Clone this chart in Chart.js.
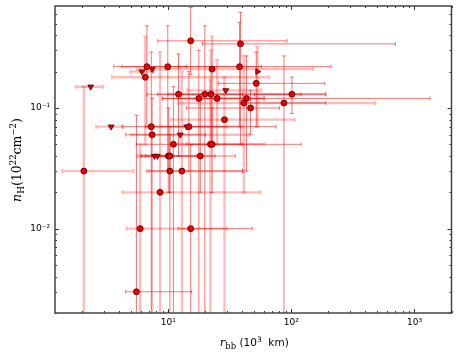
<!DOCTYPE html>
<html>
<head>
<meta charset="utf-8">
<script src="https://cdn.jsdelivr.net/npm/chart.js@4"></script>
<style>
  html, body { margin: 0; padding: 0; background: #fff; }
  #wrap { width: 458px; height: 356px; }
</style>
</head>
<body>
<div id="wrap"><canvas id="myChart"></canvas></div>
<script>
// blackbody radius (10^3 km) and column density (10^22 cm^-2)
const rbb   = [15.2, 38.6, 6.7, 6.1, 7.4, 9.9, 37.9, 22.7, 53, 6.5, 51.8, 2.34, 29.3, 12.1, 19.8, 22.2, 101, 17.7, 24.9, 43.2, 41.1, 87, 46.6, 28.6, 3.43, 7.27, 14.1, 14.7, 7.38, 12.5, 11.0, 22.0, 22.7, 7.69, 8.14, 10.0, 10.3, 18.2, 2.06, 10.3, 12.9, 8.57, 5.91, 15.2, 5.51];
const nH    = [0.36, 0.34, 0.22, 0.20, 0.21, 0.22, 0.22, 0.21, 0.20, 0.18, 0.16, 0.15, 0.14, 0.13, 0.13, 0.13, 0.13, 0.12, 0.12, 0.12, 0.11, 0.11, 0.10, 0.08, 0.07, 0.07, 0.07, 0.07, 0.06, 0.06, 0.05, 0.05, 0.05, 0.04, 0.04, 0.04, 0.04, 0.04, 0.03, 0.03, 0.03, 0.02, 0.01, 0.01, 0.003];
const rbbLo = [8.2, 18.9, 3.6, 4.9, 5.6, 4.2, 12, 9.5, null, 3.5, 25.6, 1.77, 14.3, 6.7, 8.2, 10, 50, 9, 12, 8.9, 12, 40, 14, 10.5, 2.6, 4.2, 7, 6.5, 4.5, 5, 5.5, 12, 14, 5.6, 6, 6, 6.5, 8, 1.38, 6.7, 7, 4.24, 4.6, 12, 4.5];
const rbbHi = [92, 700, 14, 7.6, 9.3, 57, 210, 150, null, 66, 187, 2.95, 57, 40, 120, 190, 190, 60, 60, 1340, 480, 190, 80, 106, 4.3, 30, 40, 75, 20, 45, 120, 60, 40, 10, 11, 17, 24, 35, 5.2, 40, 40.6, 56, 30, 48, 15.5];
const nHLo  = [0.19, 0.05, 0.07, null, null, 0.03, 0.07, 0.05, 0.07, 0.05, 0.07, null, null, 0.04, 0.001, 0.05, 0.09, 0.001, 0.05, 0.03, 0.02, 0.001, 0.06, 0.001, null, 0.001, null, 0.03, 0.001, null, 0.001, 0.001, 0.02, null, null, 0.02, 0.02, 0.02, 0.001, 0.001, 0.001, 0.001, 0.001, 0.001, 0.001];
const nHHi  = [0.68, 0.62, 0.48, null, null, 0.48, 0.51, 0.39, 0.32, 0.39, 0.29, null, null, 0.28, 0.48, 0.30, 0.18, 0.30, 0.25, 0.27, 0.27, 0.27, 0.14, 0.18, null, 0.29, null, 0.20, 0.12, null, 0.15, 0.17, 0.10, null, null, 0.10, 0.06, 0.13, 0.15, 0.07, 0.20, 0.29, 0.05, 0.05, 0.087];
// c = detection, d = upper limit on nH, r = lower limit on rbb
const markerKind = ['c','c','c','d','d','c','c','c','r','c','c','d','d','c','c','c','c','c','c','c','c','c','c','c','d','c','d','c','c','d','c','c','c','d','d','c','c','c','c','c','c','c','c','c','c'];
// t = thin error bar, p = pale wide error bar
const barKind    = ['t','t','t','p','p','t','t','p','p','p','t','p','p','t','t','p','t','t','p','t','p','t','t','p','p','t','p','t','t','p','t','p','t','p','p','t','t','t','p','t','p','p','p','t','t'];
const xTickValues = [10, 100, 1000];
const yTickValues = [0.01, 0.1];

const SUP = { '-': '\u207B', '0': '\u2070', '1': '\u00B9', '2': '\u00B2', '3': '\u00B3' };
function powerLabel(v) {
  const e = String(Math.round(Math.log10(v)));
  return '10' + e.split('').map(ch => SUP[ch]).join('');
}

const errorBars = {
  id: 'errorBars',
  beforeDatasetsDraw(chart) {
    const { ctx, chartArea: a, scales: { x, y } } = chart;
    ctx.save();
    ctx.beginPath();
    ctx.rect(a.left, a.top, a.right - a.left, a.bottom - a.top);
    ctx.clip();
    const cap = 2;
    rbb.forEach((xv, i) => {
      const px = x.getPixelForValue(xv);
      const py = y.getPixelForValue(nH[i]);
      if (barKind[i] === 'p') {
        ctx.strokeStyle = 'rgba(255,0,0,0.27)';
        ctx.lineWidth = 2.4;
      } else {
        ctx.strokeStyle = 'rgba(255,0,0,0.55)';
        ctx.lineWidth = 1;
      }
      ctx.beginPath();
      if (rbbLo[i] != null) {
        const x0 = x.getPixelForValue(rbbLo[i]);
        const x1 = x.getPixelForValue(rbbHi[i]);
        ctx.moveTo(x0, py); ctx.lineTo(x1, py);
        ctx.moveTo(x0, py - cap); ctx.lineTo(x0, py + cap);
        ctx.moveTo(x1, py - cap); ctx.lineTo(x1, py + cap);
      }
      if (nHLo[i] != null) {
        const y0 = y.getPixelForValue(nHLo[i]);
        const y1 = y.getPixelForValue(nHHi[i]);
        ctx.moveTo(px, y0); ctx.lineTo(px, y1);
        ctx.moveTo(px - cap, y0); ctx.lineTo(px + cap, y0);
        ctx.moveTo(px - cap, y1); ctx.lineTo(px + cap, y1);
      }
      ctx.stroke();
    });
    ctx.restore();
  },
};

function drawRich(ctx, parts, x, y) {
  // parts: [text, font, dy]; draws left to right, centred on x, baseline y
  let total = 0;
  parts.forEach(([t, f]) => { ctx.font = f; total += ctx.measureText(t).width; });
  let cx = x - total / 2;
  parts.forEach(([t, f, dy]) => {
    ctx.font = f;
    ctx.fillText(t, cx, y + (dy || 0));
    cx += ctx.measureText(t).width;
  });
}

const frame = {
  id: 'frame',
  afterDraw(chart) {
    const { ctx, chartArea: a, scales: { x, y } } = chart;
    ctx.save();
    ctx.strokeStyle = '#333';
    ctx.lineWidth = 1;
    // inward ticks on all four sides
    ctx.beginPath();
    for (let k = 0; k <= 3; k++) {
      for (let m = 1; m <= 9; m++) {
        const v = m * Math.pow(10, k);
        if (v < x.min || v > x.max) continue;
        const px = Math.round(x.getPixelForValue(v)) + 0.5;
        const len = m === 1 ? 4 : 2;
        ctx.moveTo(px, a.bottom); ctx.lineTo(px, a.bottom - len);
        ctx.moveTo(px, a.top); ctx.lineTo(px, a.top + len);
      }
    }
    for (let k = -3; k <= 0; k++) {
      for (let m = 1; m <= 9; m++) {
        const v = m * Math.pow(10, k);
        if (v < y.min || v > y.max) continue;
        const py = Math.round(y.getPixelForValue(v)) + 0.5;
        const len = m === 1 ? 4 : 2;
        ctx.moveTo(a.left, py); ctx.lineTo(a.left + len, py);
        ctx.moveTo(a.right, py); ctx.lineTo(a.right - len, py);
      }
    }
    ctx.stroke();
    ctx.strokeStyle = '#444';
    ctx.lineWidth = 1.5;
    ctx.strokeRect(a.left, a.top, a.right - a.left, a.bottom - a.top);

    // axis titles
    ctx.fillStyle = '#000';
    ctx.textBaseline = 'alphabetic';
    drawRich(ctx, [
      ['r', 'italic 11.5px "DejaVu Serif"'],
      ['bb', '8.5px "DejaVu Serif"', 2.5],
      [' (10', '10.5px "DejaVu Sans"'],
      ['3', '7.5px "DejaVu Sans"', -4.5],
      ['  km)', '10.5px "DejaVu Sans"'],
    ], (a.left + a.right) / 2 + 1, 346);

    ctx.translate(21, 160);
    ctx.rotate(-Math.PI / 2);
    drawRich(ctx, [
      ['n', 'italic 12.5px "DejaVu Serif"'],
      ['H', '9px "DejaVu Serif"', 3],
      ['(10', '12.5px "DejaVu Serif"'],
      ['22', '8.5px "DejaVu Serif"', -5],
      ['cm', '12.5px "DejaVu Serif"'],
      ['\u22122', '8.5px "DejaVu Serif"', -5],
      [')', '12.5px "DejaVu Serif"'],
    ], 0, 0);
    ctx.restore();
  },
};

const points = rbb.map((v, i) => ({ x: v, y: nH[i] }));

new Chart(document.querySelector('#myChart'), {
  type: 'scatter',
  data: {
    datasets: [{
      data: points,
      pointStyle: markerKind.map(k => (k === 'c' ? 'circle' : 'triangle')),
      rotation: markerKind.map(k => (k === 'd' ? 180 : k === 'r' ? 90 : 0)),
      pointRadius: markerKind.map(k => (k === 'c' ? 3 : 3.4)),
      backgroundColor: '#ee0000',
      borderColor: '#4a0000',
      borderWidth: 0.8,
    }],
  },
  options: {
    responsive: true,
    maintainAspectRatio: false,
    animation: false,
    devicePixelRatio: 1,
    layout: { padding: { top: 6, right: 6.5, left: 0, bottom: 0 } },
    scales: {
      x: {
        type: 'logarithmic',
        min: 1.2,
        max: 2000,
        grid: { display: false, drawTicks: false },
        border: { display: false },
        afterBuildTicks: s => { s.ticks = xTickValues.map(v => ({ value: v })); },
        afterFit: s => { s.height = 43; s.paddingLeft = 0; s.paddingRight = 0; },
        ticks: {
          autoSkip: false,
          maxRotation: 0,
          padding: 4,
          color: '#000',
          font: { family: 'DejaVu Sans', size: 9 },
          callback: powerLabel,
        },
      },
      y: {
        type: 'logarithmic',
        min: 0.002,
        max: 0.7,
        grid: { display: false, drawTicks: false },
        border: { display: false },
        afterBuildTicks: s => { s.ticks = yTickValues.map(v => ({ value: v })); },
        afterFit: s => { s.width = 55; s.paddingTop = 0; s.paddingBottom = 0; },
        ticks: {
          autoSkip: false,
          padding: 5,
          color: '#000',
          font: { family: 'DejaVu Sans', size: 9 },
          callback: powerLabel,
        },
      },
    },
    plugins: {
      legend: { display: false },
      tooltip: { enabled: false },
    },
  },
  plugins: [errorBars, frame],
});
</script>
</body>
</html>
